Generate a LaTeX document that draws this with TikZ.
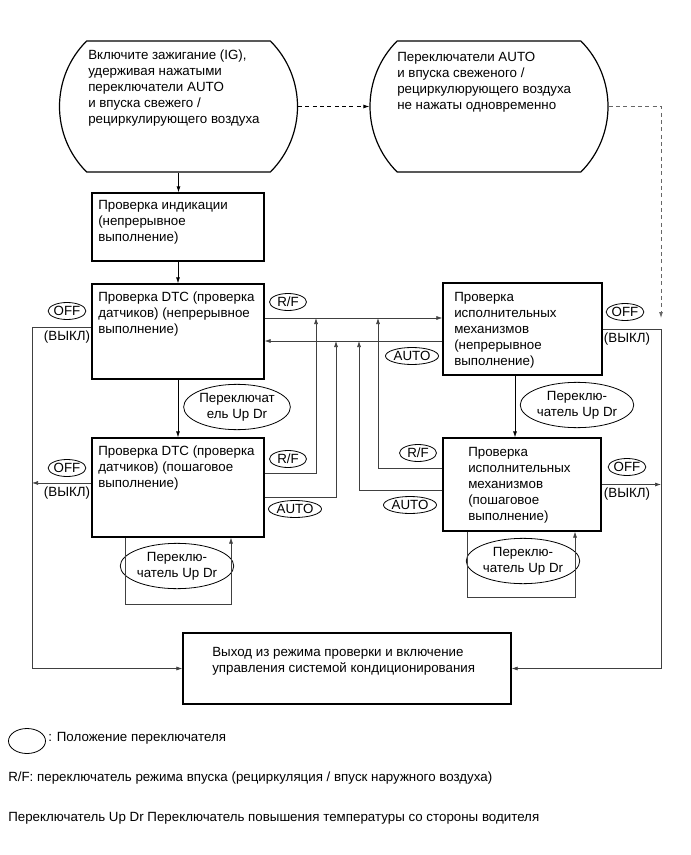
\documentclass[tikz,border=0pt]{standalone}
\usepackage{fontspec}
\setmainfont{Liberation Sans}
\usetikzlibrary{shapes.geometric,shapes.misc,arrows.meta}

\begin{document}
\begin{tikzpicture}[x=0.75pt, y=-0.75pt,
  font=\fontsize{10pt}{12pt}\selectfont,
  stadium/.style={rounded rectangle, rounded rectangle arc length=90, draw, line width=0.9pt,
              minimum width=178.5pt, minimum height=98.25pt, inner sep=0pt},
  frame/.style={rectangle, draw, line width=0.9pt, inner sep=0pt},
  txt/.style={anchor=north west, inner sep=0pt, align=left},
  sw/.style={ellipse, draw, line width=0.6pt, inner sep=0pt, minimum width=27.75pt, minimum height=12.75pt},
  swwide/.style={sw, minimum width=39.75pt},
  swbig/.style={sw, minimum width=75pt, minimum height=34pt, align=center},
  arr/.style={-{Latex[length=4.5pt,width=3pt]}},
  flow/.style={arr, line width=0.6pt},
  wire/.style={arr, line width=0.5pt, draw=black!75},
  dashline/.style={arr, line width=0.6pt, dash pattern=on 3pt off 2.5pt}
]
\useasboundingbox (0,0) rectangle (691,855);

% start conditions
\node[stadium] (ign) at (178.5,106.5) {};
\node[txt] (ign-t) at (88,50) {Включите зажигание (IG),\\удерживая нажатыми\\переключатели AUTO\\и впуска свежего /\\рециркулирующего воздуха};
\node[stadium] (nopress) at (489,106.5) {};
\node[txt] (nopress-t) at (397,52) {Переключатели AUTO\\и впуска свеженого /\\рециркулюрующего воздуха\\не нажаты одновременно};

% check modes
\node[frame, minimum width=129pt, minimum height=51pt] (ind) at (178,227) {};
\node[txt] (ind-t) at (98,200) {Проверка индикации\\(непрерывное\\выполнение)};
\node[frame, minimum width=129pt, minimum height=71.25pt] (dtc1) at (178,331.5) {};
\node[txt] (dtc1-t) at (98,292) {Проверка DTC (проверка\\датчиков) (непрерывное\\выполнение)};
\node[frame, minimum width=119.25pt, minimum height=69pt] (act1) at (522.5,329) {};
\node[txt] (act1-t) at (454,292) {Проверка\\исполнительных\\механизмов\\(непрерывное\\выполнение)};
\node[frame, minimum width=129pt, minimum height=74.25pt] (dtc2) at (178,487.5) {};
\node[txt] (dtc2-t) at (98,446) {Проверка DTC (проверка\\датчиков) (пошаговое\\выполнение)};
\node[frame, minimum width=118.5pt, minimum height=69.75pt] (act2) at (522,484.5) {};
\node[txt] (act2-t) at (468,447) {Проверка\\исполнительных\\механизмов\\(пошаговое\\выполнение)};
\node[frame, minimum width=246pt, minimum height=53.25pt] (exit) at (347,668.5) {};
\node[txt] (exit-t) at (212,647) {Выход из режима проверки и включение\\управления системой кондиционирования};

% switch positions
\node[sw] (off1) at (67,311) {OFF};
\node (vykl1) at (67,337) {(ВЫКЛ)};
\node[sw] (rf1) at (288,302) {R/F};
\node[swwide] (auto1) at (412,356) {AUTO};
\node[sw] (off2) at (625,312) {OFF};
\node (vykl2) at (627,339) {(ВЫКЛ)};
\node[swbig] (up1) at (237,407) {Переключат\\ель Up Dr};
\node[swbig] (up2) at (577,405) {Переклю-\\чатель Up Dr};
\node[sw] (off3) at (67,468) {OFF};
\node (vykl3) at (67,493) {(ВЫКЛ)};
\node[sw] (rf2) at (288,459) {R/F};
\node[swwide] (auto2) at (295,509) {AUTO};
\node[sw] (rf3) at (418,453) {R/F};
\node[swwide] (auto3) at (410,505) {AUTO};
\node[sw] (off4) at (627,467) {OFF};
\node (vykl4) at (627,494) {(ВЫКЛ)};
\node[swbig] (up3) at (177,566) {Переклю-\\чатель Up Dr};
\node[swbig] (up4) at (523,561) {Переклю-\\чатель Up Dr};

% helper coordinates
\coordinate (lline) at (32,0);
\coordinate (rline) at (661,0);
\coordinate (actx) at (515,0);
\coordinate (rfrow) at (0,318);
\coordinate (autorow) at (0,341);
\coordinate (colA) at (316,0);
\coordinate (colB) at (336,0);
\coordinate (colC) at (359,0);
\coordinate (colD) at (378,0);
\coordinate (off1pt) at ([yshift=3.4pt]dtc1.west);
\coordinate (off3pt) at ([yshift=3.4pt]dtc2.west);
\coordinate (rf2pt) at ([yshift=10.9pt]dtc2.east);
\coordinate (auto2pt) at ([yshift=-7.1pt]dtc2.east);
\coordinate (auto3pt) at ([yshift=-4.1pt]act2.west);
\coordinate (rf3pt) at ([yshift=12.4pt]act2.west);
\coordinate (loop1a) at (125,604);
\coordinate (loop1b) at (231,604);
\coordinate (loop2a) at (467,597);
\coordinate (loop2b) at (575,597);

% main flow
\draw[flow] (ign.south) -- (ign.south |- ind.north);
\draw[flow] (ind) -- (dtc1);
\draw[flow] (dtc1) -- (dtc2);
\draw[flow] (act1.south -| actx) -- (act2.north -| actx);
\draw[dashline] (ign) -- (nopress);
\draw[dashline, draw=black!60] (nopress.east) -| (rline |- rfrow);

% mode changes
\draw[wire] (dtc1.east |- rfrow) -- (act1.west |- rfrow);
\draw[wire] (act1.west |- autorow) -- (dtc1.east |- autorow);
\draw[wire] (rf2pt) -| (colA |- rfrow);
\draw[wire] (auto2pt) -| (colB |- autorow);
\draw[wire] (auto3pt) -| (colC |- autorow);
\draw[wire] (rf3pt) -| (colD |- rfrow);
\draw[wire] (dtc2.south -| loop1a) -- (loop1a) -- (loop1b) -- (dtc2.south -| loop1b);
\draw[wire] (act2.south -| loop2a) -- (loop2a) -- (loop2b) -- (act2.south -| loop2b);

% exits
\draw[wire] (off1pt) -| (lline |- exit.west) -- (exit.west);
\draw[wire] (off3pt) -- (lline |- off3pt);
\draw[wire] (act1.east) -| (rline |- exit.east) -- (exit.east);
\draw[wire] (act2.east) -- (rline |- act2.east);

% legend
\node[sw, minimum width=27.75pt, minimum height=18.75pt] (key) at (27,741) {};
\node[anchor=west, inner sep=0pt] (key-t) at (48,738) {: Положение переключателя};
\node[anchor=west, inner sep=0pt] (rf-t) at (8,778) {R/F: переключатель режима впуска (рециркуляция / впуск наружного воздуха)};
\node[anchor=west, inner sep=0pt] (up-t) at (8,818) {Переключатель Up Dr Переключатель повышения температуры со стороны водителя};
\end{tikzpicture}
\end{document}
